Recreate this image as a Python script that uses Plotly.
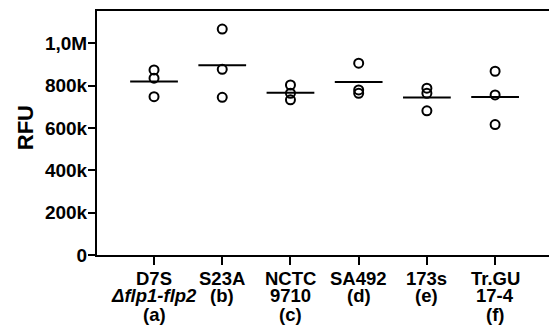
import plotly.graph_objects as go

# ---- data ----
strains = ["D7S", "S23A", "NCTC 9710", "SA492", "173s", "Tr.GU 17-4"]
label_rows = [
    ["D7S", "<i>Δflp1-flp2</i>", "(a)"],
    ["S23A", "(b)", ""],
    ["NCTC", "9710", "(c)"],
    ["SA492", "(d)", ""],
    ["173s", "(e)", ""],
    ["Tr.GU", "17-4", "(f)"],
]
rfu_a = [874000, 835000, 748000]
rfu_b = [1067000, 877000, 745000]
rfu_c = [803000, 764000, 733000]
rfu_d = [906000, 780000, 764000]
rfu_e = [788000, 764000, 681000]
rfu_f = [868000, 756000, 616000]
groups = [rfu_a, rfu_b, rfu_c, rfu_d, rfu_e, rfu_f]
y_tickvals = [0, 200000, 400000, 600000, 800000, 1000000]
y_ticktext = ["0", "200k", "400k", "600k", "800k", "1,0M"]

FONT = "Liberation Sans"

fig = go.Figure()

# points
px, py = [], []
for i, vals in enumerate(groups):
    for v in vals:
        px.append(i)
        py.append(v)
fig.add_trace(go.Scatter(
    x=px, y=py, mode="markers",
    marker=dict(symbol="circle-open", size=9, color="black", line=dict(width=2, color="black")),
    showlegend=False, hoverinfo="y"))

# mean lines
mx, my = [], []
half = 0.35
for i, vals in enumerate(groups):
    m = sum(vals) / len(vals)
    mx += [i - half, i + half, None]
    my += [m, m, None]
fig.add_trace(go.Scatter(x=mx, y=my, mode="lines", line=dict(color="black", width=2),
                         showlegend=False, hoverinfo="skip"))

# x labels as annotations (three rows)
row_y = [-0.098, -0.168, -0.242]
for i, rows in enumerate(label_rows):
    for r, txt in enumerate(rows):
        if not txt:
            continue
        fig.add_annotation(x=i, y=row_y[r], xref="x", yref="paper", text=txt,
                           showarrow=False, xanchor="center", yanchor="middle", borderpad=0,
                           font=dict(family=FONT, size=18.5, color="black", weight="bold"))

fig.add_annotation(x=-0.159, y=0.52, xref="paper", yref="paper", text="RFU",
                   textangle=-90, showarrow=False, xanchor="center", yanchor="middle",
                   font=dict(family=FONT, size=22, color="black", weight="bold"))

fig.update_layout(
    width=549, height=331,
    margin=dict(l=97, r=0, t=11, b=76),
    paper_bgcolor="white", plot_bgcolor="white",
    font=dict(family=FONT, color="black", weight="bold"),
    xaxis=dict(range=[-0.836, 5.79], tickvals=list(range(len(strains))), ticktext=strains,
               showticklabels=False, ticks="outside", ticklen=8, tickwidth=2, tickcolor="black",
               showline=True, linewidth=2, linecolor="black", mirror=True,
               showgrid=False, zeroline=False),
    yaxis=dict(range=[0, 1152600], tickvals=y_tickvals, ticktext=y_ticktext,
               ticks="outside", ticklen=7, tickwidth=2, tickcolor="black",
               tickfont=dict(family=FONT, size=19, color="black", weight="bold"),
               ticklabelstandoff=-3,
               showline=True, linewidth=2, linecolor="black",
               showgrid=False, zeroline=False),
)

fig.write_html("out.html", config={"displayModeBar": False},
               post_script="document.body.style.margin='0';")
